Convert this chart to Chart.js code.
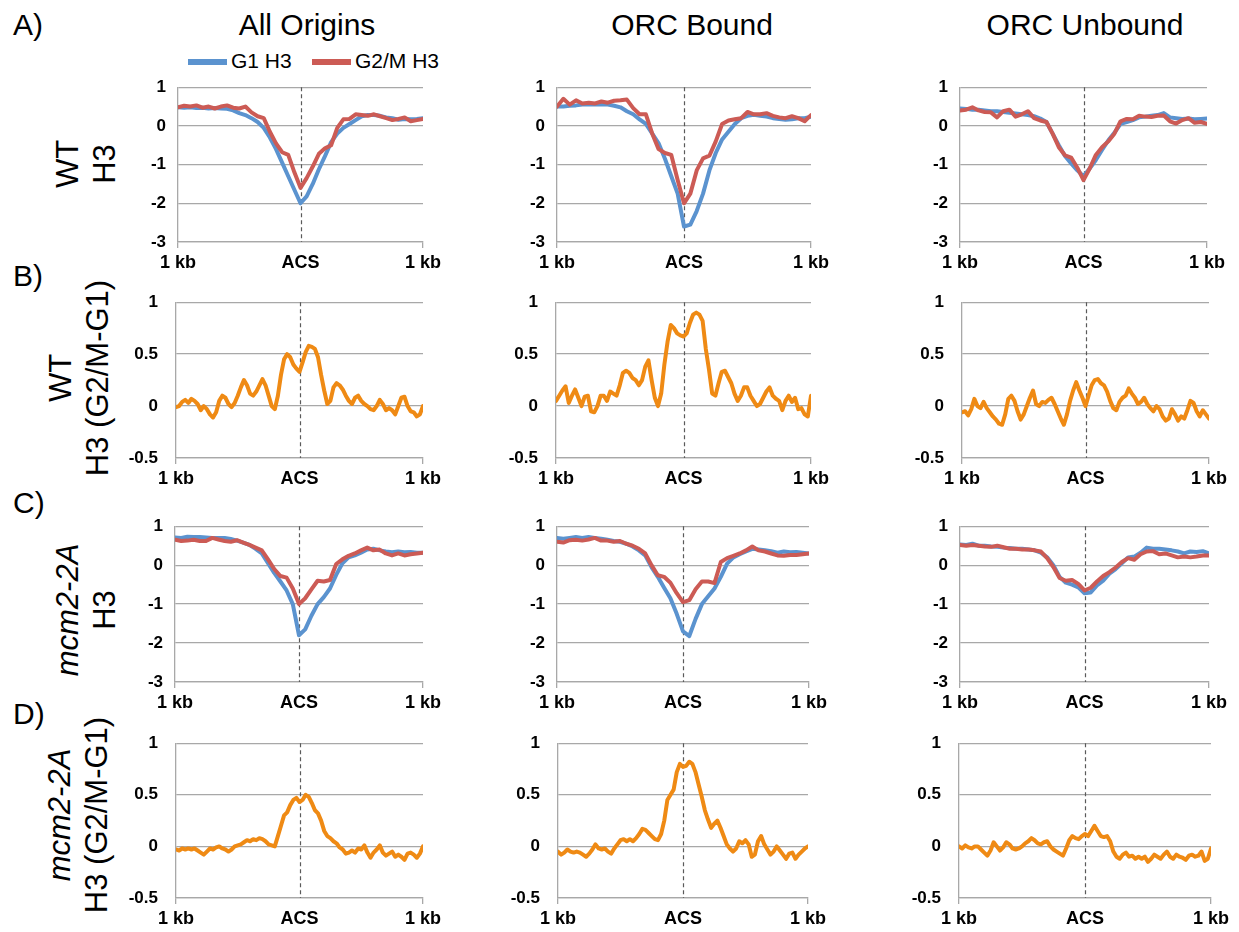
<!DOCTYPE html>
<html>
<head>
<meta charset="utf-8">
<script src="https://cdn.jsdelivr.net/npm/chart.js@4.4.1/dist/chart.umd.min.js"></script>
<style>
  body { margin: 0; background: #fff; }
  #fig { position: relative; width: 1239px; height: 932px; overflow: hidden;
         font-family: "Liberation Sans", Arial, sans-serif; color: #000; }
  .txt { position: absolute; white-space: nowrap; }
  .big { font-size: 30px; line-height: 30px; }
  .title { transform: translateX(-50%); }
  .ytitle { font-size: 31px; line-height: 37px; text-align: center;
            transform: translate(-50%, -50%) rotate(-90deg); }
  .ytitle i { font-style: italic; }
  .legend { font-size: 21px; line-height: 21px; }
  .swatch { position: absolute; height: 6px; }
  canvas { position: absolute; }
</style>
</head>
<body>
<div id="fig">
  <div class="txt big" style="left:13px; top:10px">A)</div>
  <div class="txt big" style="left:13px; top:261px">B)</div>
  <div class="txt big" style="left:13px; top:488px">C)</div>
  <div class="txt big" style="left:13px; top:699px">D)</div>

  <div class="txt big title" style="left:307px; top:10px">All Origins</div>
  <div class="txt big title" style="left:692px; top:10px">ORC Bound</div>
  <div class="txt big title" style="left:1085px; top:10px">ORC Unbound</div>

  <div class="swatch" style="left:188px; top:59px; width:39px; background:#5B93CF"></div>
  <div class="txt legend" style="left:231px; top:50px">G1 H3</div>
  <div class="swatch" style="left:312px; top:59px; width:39px; background:#CC5B55"></div>
  <div class="txt legend" style="left:355px; top:50px">G2/M H3</div>

  <div class="txt ytitle" style="left:86px; top:164px">WT<br>H3</div>
  <div class="txt ytitle" style="left:79px; top:378px">WT<br>H3 (G2/M-G1)</div>
  <div class="txt ytitle" style="left:86px; top:610px"><i>mcm2-2A</i><br>H3</div>
  <div class="txt ytitle" style="left:78px; top:815px"><i>mcm2-2A</i><br>H3 (G2/M-G1)</div>
</div>

<script>
// positions relative to the ACS (bp)
const posCoarse = [-1000, -950, -900, -850, -800, -750, -700, -650, -600, -550, -500, -450, -400, -350, -300, -250, -200, -150, -100, -50,
  0, 50, 100, 150, 200, 250, 300, 350, 400, 450, 500, 550, 600, 650, 700, 750, 800, 850, 900, 950, 1000];
const posFine = [-1000, -975, -950, -925, -900, -875, -850, -825, -800, -775, -750, -725, -700, -675, -650, -625, -600, -575, -550, -525,
  -500, -475, -450, -425, -400, -375, -350, -325, -300, -275, -250, -225, -200, -175, -150, -125, -100, -75, -50, -25,
  0, 25, 50, 75, 100, 125, 150, 175, 200, 225, 250, 275, 300, 325, 350, 375, 400, 425, 450, 475,
  500, 525, 550, 575, 600, 625, 650, 675, 700, 725, 750, 775, 800, 825, 850, 875, 900, 925, 950, 975, 1000];

const xTickValues = [-1000, 0, 1000];
const xTickLabels = ['1 kb', 'ACS', '1 kb'];
const ticksProfile = [1, 0, -1, -2, -3];
const ticksDiff = [1, 0.5, 0, -0.5];
const seriesNames = ['G1 H3', 'G2/M H3', 'G2/M-G1'];

// WT, H3 occupancy
const wtAllG1 = [0.48, 0.47, 0.48, 0.46, 0.47, 0.45, 0.46, 0.45, 0.44, 0.40, 0.33, 0.28, 0.20, 0.10, -0.05, -0.30, -0.60, -0.95, -1.30, -1.65,
  -2.00, -1.82, -1.50, -1.12, -0.78, -0.42, -0.20, -0.05, 0.05, 0.15, 0.25, 0.28, 0.28, 0.26, 0.22, 0.20, 0.16, 0.18, 0.17, 0.18, 0.20];
const wtAllG2M = [0.48, 0.52, 0.50, 0.53, 0.47, 0.50, 0.45, 0.50, 0.53, 0.47, 0.45, 0.50, 0.35, 0.25, 0.20, -0.15, -0.45, -0.68, -0.75, -1.20,
  -1.60, -1.35, -1.05, -0.72, -0.58, -0.50, -0.05, 0.17, 0.18, 0.30, 0.28, 0.26, 0.30, 0.25, 0.20, 0.15, 0.18, 0.22, 0.12, 0.15, 0.18];
const wtBoundG1 = [0.50, 0.50, 0.52, 0.53, 0.55, 0.55, 0.56, 0.55, 0.55, 0.52, 0.48, 0.38, 0.30, 0.17, 0.05, -0.20, -0.45, -0.85, -1.30, -1.75,
  -2.60, -2.55, -2.20, -1.75, -1.15, -0.70, -0.35, -0.15, 0.05, 0.20, 0.26, 0.29, 0.26, 0.24, 0.20, 0.18, 0.16, 0.17, 0.20, 0.20, 0.24];
const wtBoundG2M = [0.50, 0.70, 0.55, 0.66, 0.58, 0.60, 0.58, 0.63, 0.60, 0.65, 0.66, 0.68, 0.46, 0.30, 0.30, -0.20, -0.60, -0.70, -0.75, -1.40,
  -2.00, -1.75, -1.15, -0.84, -0.77, -0.40, 0.05, 0.14, 0.17, 0.20, 0.36, 0.30, 0.30, 0.33, 0.26, 0.22, 0.20, 0.25, 0.20, 0.12, 0.28];
const wtUnboundG1 = [0.45, 0.44, 0.42, 0.42, 0.40, 0.38, 0.38, 0.36, 0.34, 0.32, 0.30, 0.28, 0.25, 0.19, 0.10, -0.20, -0.50, -0.78, -0.97, -1.15,
  -1.30, -1.10, -0.88, -0.62, -0.38, -0.18, 0.05, 0.10, 0.15, 0.22, 0.24, 0.26, 0.28, 0.33, 0.22, 0.20, 0.18, 0.19, 0.17, 0.18, 0.19];
const wtUnboundG2M = [0.40, 0.42, 0.48, 0.40, 0.36, 0.35, 0.22, 0.38, 0.42, 0.24, 0.30, 0.38, 0.20, 0.14, 0.10, -0.20, -0.55, -0.76, -0.82, -1.08,
  -1.40, -1.10, -0.75, -0.55, -0.40, -0.20, 0.12, 0.18, 0.17, 0.26, 0.24, 0.23, 0.26, 0.27, 0.12, 0.06, 0.15, 0.20, 0.08, 0.10, 0.05];

// WT, G2/M minus G1
const wtAllDiff = [-0.01, 0.00, 0.04, 0.06, 0.03, 0.07, 0.05, 0.02, -0.04, 0.00, -0.03, -0.08, -0.11, -0.06, 0.05, 0.10, 0.08, 0.02, -0.01, 0.03,
  0.10, 0.18, 0.25, 0.20, 0.12, 0.10, 0.14, 0.20, 0.26, 0.20, 0.10, 0.00, -0.03, 0.10, 0.30, 0.45, 0.50, 0.47, 0.40, 0.36,
  0.33, 0.42, 0.52, 0.58, 0.57, 0.55, 0.47, 0.30, 0.15, 0.02, 0.05, 0.18, 0.22, 0.20, 0.16, 0.10, 0.05, 0.02, 0.08, 0.10,
  0.05, 0.02, 0.00, -0.03, -0.04, 0.00, 0.06, 0.02, -0.04, -0.02, -0.04, -0.08, 0.00, 0.08, 0.09, 0.00, -0.05, -0.06, -0.10, -0.08, 0.00];
const wtBoundDiff = [0.05, 0.10, 0.15, 0.19, 0.03, 0.10, 0.16, 0.08, 0.00, 0.09, 0.10, -0.05, -0.06, 0.00, 0.10, 0.10, 0.05, 0.14, 0.12, 0.10,
  0.20, 0.32, 0.34, 0.32, 0.27, 0.25, 0.20, 0.25, 0.38, 0.44, 0.25, 0.08, 0.00, 0.12, 0.40, 0.62, 0.78, 0.75, 0.70, 0.68,
  0.67, 0.70, 0.80, 0.88, 0.90, 0.88, 0.82, 0.55, 0.35, 0.12, 0.10, 0.22, 0.33, 0.34, 0.28, 0.22, 0.12, 0.05, 0.10, 0.18,
  0.18, 0.10, 0.05, 0.00, 0.02, 0.08, 0.14, 0.18, 0.10, 0.07, 0.05, -0.04, 0.05, 0.10, 0.04, 0.08, -0.03, -0.02, -0.08, -0.10, 0.10];
const wtUnboundDiff = [-0.06, -0.05, -0.09, -0.03, 0.07, 0.00, -0.02, 0.04, -0.02, -0.06, -0.10, -0.13, -0.17, -0.18, -0.08, 0.07, 0.10, 0.05, -0.05, -0.13,
  -0.08, 0.00, 0.08, 0.15, 0.02, 0.00, 0.04, 0.03, 0.06, 0.08, 0.02, -0.05, -0.12, -0.18, -0.08, 0.05, 0.15, 0.23, 0.15, 0.08,
  0.00, 0.10, 0.20, 0.25, 0.26, 0.22, 0.20, 0.14, 0.05, -0.02, -0.04, 0.04, 0.08, 0.10, 0.17, 0.12, 0.08, 0.02, 0.04, 0.08,
  0.02, -0.02, -0.05, 0.00, -0.03, -0.10, -0.14, -0.12, -0.03, -0.08, -0.14, -0.10, -0.12, -0.04, 0.05, 0.03, -0.05, -0.10, -0.04, -0.08, -0.12];

// mcm2-2A, H3 occupancy
const mcmAllG1 = [0.71, 0.70, 0.73, 0.72, 0.72, 0.71, 0.70, 0.70, 0.70, 0.67, 0.63, 0.58, 0.52, 0.42, 0.30, 0.05, -0.20, -0.42, -0.65, -1.00,
  -1.80, -1.65, -1.30, -1.00, -0.82, -0.60, -0.25, 0.05, 0.20, 0.25, 0.32, 0.40, 0.42, 0.38, 0.35, 0.33, 0.35, 0.33, 0.34, 0.32, 0.32];
const mcmAllG2M = [0.65, 0.62, 0.63, 0.65, 0.62, 0.62, 0.70, 0.66, 0.62, 0.60, 0.64, 0.58, 0.52, 0.45, 0.38, 0.15, -0.10, -0.28, -0.32, -0.60,
  -1.00, -0.85, -0.62, -0.40, -0.42, -0.38, 0.03, 0.15, 0.24, 0.30, 0.38, 0.45, 0.38, 0.40, 0.30, 0.25, 0.30, 0.25, 0.28, 0.30, 0.32];
const mcmBoundG1 = [0.70, 0.68, 0.70, 0.72, 0.70, 0.72, 0.70, 0.68, 0.65, 0.62, 0.60, 0.55, 0.48, 0.38, 0.25, -0.05, -0.30, -0.58, -0.85, -1.25,
  -1.70, -1.82, -1.38, -1.00, -0.80, -0.60, -0.30, 0.04, 0.20, 0.28, 0.35, 0.42, 0.40, 0.38, 0.36, 0.32, 0.35, 0.33, 0.34, 0.32, 0.30];
const mcmBoundG2M = [0.60, 0.58, 0.64, 0.65, 0.63, 0.66, 0.70, 0.63, 0.63, 0.60, 0.62, 0.55, 0.50, 0.42, 0.30, 0.00, -0.26, -0.30, -0.45, -0.72,
  -0.95, -0.90, -0.62, -0.42, -0.42, -0.46, 0.08, 0.18, 0.24, 0.30, 0.38, 0.48, 0.38, 0.35, 0.30, 0.25, 0.24, 0.26, 0.26, 0.28, 0.30];
const mcmUnboundG1 = [0.53, 0.52, 0.55, 0.50, 0.50, 0.48, 0.47, 0.45, 0.44, 0.42, 0.42, 0.40, 0.38, 0.32, 0.20, 0.00, -0.30, -0.45, -0.50, -0.57,
  -0.72, -0.70, -0.52, -0.40, -0.22, -0.10, 0.05, 0.20, 0.22, 0.32, 0.45, 0.42, 0.42, 0.40, 0.38, 0.35, 0.30, 0.35, 0.34, 0.36, 0.30];
const mcmUnboundG2M = [0.52, 0.50, 0.52, 0.50, 0.48, 0.47, 0.50, 0.46, 0.42, 0.42, 0.40, 0.40, 0.38, 0.35, 0.18, -0.05, -0.33, -0.40, -0.38, -0.48,
  -0.65, -0.58, -0.42, -0.28, -0.18, -0.06, 0.08, 0.18, 0.14, 0.28, 0.35, 0.36, 0.28, 0.30, 0.25, 0.20, 0.22, 0.20, 0.22, 0.25, 0.25];

// mcm2-2A, G2/M minus G1
const mcmAllDiff = [-0.03, -0.04, -0.02, -0.03, -0.02, -0.03, -0.02, -0.04, -0.06, -0.08, -0.05, -0.02, -0.03, -0.01, 0.00, -0.02, -0.03, -0.05, -0.03, 0.00,
  0.01, 0.02, 0.04, 0.06, 0.05, 0.07, 0.06, 0.08, 0.07, 0.05, 0.02, 0.01, 0.00, 0.10, 0.20, 0.30, 0.33, 0.40, 0.45, 0.47,
  0.43, 0.45, 0.50, 0.48, 0.42, 0.35, 0.32, 0.25, 0.15, 0.10, 0.08, 0.05, 0.03, -0.01, -0.03, -0.07, -0.06, -0.04, -0.06, -0.02,
  -0.03, 0.01, -0.06, -0.11, -0.06, -0.03, 0.01, -0.06, -0.09, -0.07, -0.05, -0.10, -0.08, -0.10, -0.13, -0.07, -0.06, -0.08, -0.11, -0.07, 0.00];
const mcmBoundDiff = [-0.05, -0.08, -0.06, -0.03, -0.05, -0.06, -0.05, -0.06, -0.08, -0.10, -0.07, -0.03, 0.02, -0.02, -0.03, -0.02, -0.05, -0.07, -0.02, 0.02,
  0.06, 0.07, 0.05, 0.07, 0.05, 0.08, 0.12, 0.17, 0.16, 0.13, 0.10, 0.07, 0.06, 0.12, 0.25, 0.45, 0.50, 0.55, 0.72, 0.80,
  0.77, 0.78, 0.82, 0.80, 0.72, 0.60, 0.48, 0.35, 0.26, 0.18, 0.22, 0.25, 0.18, 0.10, 0.02, -0.02, -0.05, -0.02, 0.05, 0.03,
  0.06, 0.02, -0.10, -0.08, 0.05, 0.10, 0.02, -0.03, -0.08, -0.05, 0.00, -0.04, -0.08, -0.12, -0.07, -0.06, -0.12, -0.08, -0.05, -0.02, 0.00];
const mcmUnboundDiff = [0.00, -0.02, 0.01, -0.01, -0.02, 0.00, 0.00, -0.03, -0.06, -0.09, -0.04, 0.04, 0.00, -0.04, -0.01, 0.04, 0.02, -0.02, -0.03, -0.02,
  0.00, 0.03, 0.05, 0.08, 0.06, 0.03, 0.02, 0.04, 0.05, 0.00, -0.03, -0.05, -0.07, -0.09, -0.02, 0.06, 0.10, 0.08, 0.07, 0.10,
  0.12, 0.10, 0.15, 0.20, 0.15, 0.10, 0.09, 0.10, 0.05, -0.05, -0.10, -0.12, -0.08, -0.06, -0.10, -0.09, -0.12, -0.10, -0.12, -0.10,
  -0.15, -0.12, -0.08, -0.10, -0.12, -0.08, -0.05, -0.10, -0.12, -0.08, -0.10, -0.11, -0.13, -0.09, -0.08, -0.10, -0.09, -0.05, -0.14, -0.12, -0.02];

const BLUE = '#5B93CF', RED = '#CC5B55', ORANGE = '#EF8A14';
const GRID = '#A8A8A8';
const FONT = '"Liberation Sans", Arial, sans-serif';
const AXIS_W = 60, AXIS_H = 40, PAD_R = 26, PAD_T = 12;

// plot boxes: [left, top, right, bottom] in page pixels; pad = gap between tick labels and axis
const panels = [
  { box: [178, 87, 423, 242], pad: 12, x: posCoarse, ticks: ticksProfile, lines: [[wtAllG1, BLUE, 0], [wtAllG2M, RED, 1]] },
  { box: [557, 87, 811, 242], pad: 12, x: posCoarse, ticks: ticksProfile, lines: [[wtBoundG1, BLUE, 0], [wtBoundG2M, RED, 1]] },
  { box: [960, 87, 1207, 242], pad: 12, x: posCoarse, ticks: ticksProfile, lines: [[wtUnboundG1, BLUE, 0], [wtUnboundG2M, RED, 1]] },
  { box: [176, 302, 423, 458], pad: 18, x: posFine, ticks: ticksDiff, lines: [[wtAllDiff, ORANGE, 2]] },
  { box: [556, 302, 811, 458], pad: 18, x: posFine, ticks: ticksDiff, lines: [[wtBoundDiff, ORANGE, 2]] },
  { box: [962, 302, 1209, 458], pad: 18, x: posFine, ticks: ticksDiff, lines: [[wtUnboundDiff, ORANGE, 2]] },
  { box: [175, 526, 423, 682], pad: 12, x: posCoarse, ticks: ticksProfile, lines: [[mcmAllG1, BLUE, 0], [mcmAllG2M, RED, 1]] },
  { box: [557, 526, 809, 682], pad: 12, x: posCoarse, ticks: ticksProfile, lines: [[mcmBoundG1, BLUE, 0], [mcmBoundG2M, RED, 1]] },
  { box: [960, 526, 1209, 682], pad: 12, x: posCoarse, ticks: ticksProfile, lines: [[mcmUnboundG1, BLUE, 0], [mcmUnboundG2M, RED, 1]] },
  { box: [176, 743, 423, 898], pad: 18, x: posFine, ticks: ticksDiff, lines: [[mcmAllDiff, ORANGE, 2]] },
  { box: [558, 743, 808, 898], pad: 18, x: posFine, ticks: ticksDiff, lines: [[mcmBoundDiff, ORANGE, 2]] },
  { box: [959, 743, 1211, 898], pad: 18, x: posFine, ticks: ticksDiff, lines: [[mcmUnboundDiff, ORANGE, 2]] }
];

// dashed marker at the ACS, under the data lines
const acsLine = {
  id: 'acsLine',
  beforeDatasetsDraw(chart) {
    const { ctx, chartArea, scales } = chart;
    const x = Math.round(scales.x.getPixelForValue(xTickValues[1])) + 0.5;
    ctx.save();
    ctx.strokeStyle = '#5a5a5a';
    ctx.lineWidth = 1.2;
    ctx.setLineDash([4, 3]);
    ctx.beginPath();
    ctx.moveTo(x, chartArea.top);
    ctx.lineTo(x, chartArea.bottom);
    ctx.stroke();
    ctx.restore();
  }
};

function buildChart(canvas, p) {
  const n = p.lines.length;
  return new Chart(canvas, {
    type: 'line',
    data: {
      datasets: p.lines.map(([ys, color, name], i) => ({
        label: seriesNames[name],
        data: p.x.map((x, k) => ({ x: x, y: ys[k] })),
        borderColor: color,
        borderWidth: 4,
        pointRadius: 0,
        tension: 0,
        borderJoinStyle: 'round',
        borderCapStyle: 'round',
        order: n - 1 - i   // G2/M drawn over G1
      }))
    },
    options: {
      responsive: false,
      maintainAspectRatio: false,
      animation: false,
      layout: { padding: { left: 0, right: PAD_R, top: PAD_T, bottom: 0 } },
      plugins: { legend: { display: false }, tooltip: { enabled: false } },
      scales: {
        x: {
          type: 'linear',
          min: p.x[0],
          max: p.x[p.x.length - 1],
          afterBuildTicks: s => { s.ticks = xTickValues.map(v => ({ value: v })); },
          afterFit: s => { s.height = AXIS_H; },
          ticks: {
            autoSkip: false, maxRotation: 0, padding: 4, color: '#000',
            font: { family: FONT, size: 18, weight: 'bold' },
            callback: (v, i) => xTickLabels[i]
          },
          grid: {
            drawOnChartArea: false, drawTicks: true, tickLength: 6, lineWidth: 1.3,
            color: c => (c.tick && c.tick.value === xTickValues[1]) ? 'rgba(0,0,0,0)' : GRID
          },
          border: { display: true, color: GRID, width: 1.3 }
        },
        y: {
          min: p.ticks[p.ticks.length - 1],
          max: p.ticks[0],
          afterBuildTicks: s => { s.ticks = p.ticks.map(v => ({ value: v })); },
          afterFit: s => { s.width = AXIS_W; },
          ticks: {
            padding: p.pad, color: '#000',
            font: { family: FONT, size: 17, weight: 'bold' },
            callback: v => String(v)
          },
          grid: { drawTicks: false, color: GRID, lineWidth: 1.3 },
          border: { display: true, color: GRID, width: 1.3 }
        }
      }
    },
    plugins: [acsLine]
  });
}

function placeCanvas(canvas, left, top, w, h) {
  canvas.width = w;
  canvas.height = h;
  canvas.style.left = left + 'px';
  canvas.style.top = top + 'px';
  canvas.style.width = w + 'px';
  canvas.style.height = h + 'px';
}

function makePanel(p) {
  const [l, t, r, b] = p.box;
  let w = (r - l) + AXIS_W + PAD_R;
  let h = (b - t) + PAD_T + AXIS_H;
  const canvas = document.createElement('canvas');
  document.getElementById('fig').appendChild(canvas);
  placeCanvas(canvas, l - AXIS_W, t - PAD_T, w, h);
  let chart = buildChart(canvas, p);

  // the layout may reserve extra room for edge labels; grow the canvas so the plot box lands where wanted
  const a = chart.chartArea;
  const dl = Math.round(a.left) - AXIS_W;
  const dt = Math.round(a.top) - PAD_T;
  const dr = (w - PAD_R) - Math.round(a.right);
  const db = (h - AXIS_H) - Math.round(a.bottom);
  if (dl || dt || dr || db) {
    chart.destroy();
    w += dl + dr;
    h += dt + db;
    placeCanvas(canvas, l - AXIS_W - dl, t - PAD_T - dt, w, h);
    chart = buildChart(canvas, p);
  }
}

panels.forEach(makePanel);
</script>
</body>
</html>
